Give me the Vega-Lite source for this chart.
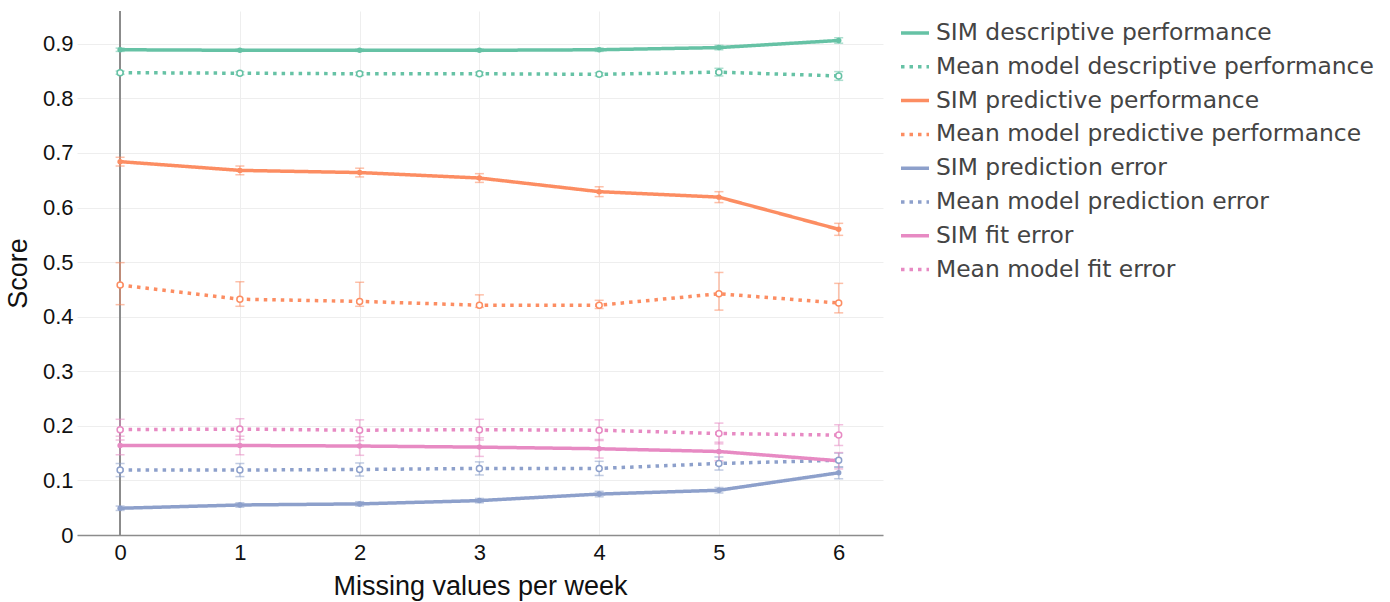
{
  "$schema": "https://vega.github.io/schema/vega-lite/v6.json",
  "width": 806,
  "height": 524,
  "padding": {"left": 4, "top": 10, "right": 5, "bottom": 2},
  "background": "white",
  "config": {
    "view": {"stroke": null},
    "axis": {"labelFont": "Liberation Sans", "titleFont": "Liberation Sans", "labelColor": "#111", "titleColor": "#111", "titleFontWeight": "normal", "gridColor": "#eeeeee", "gridWidth": 1, "ticks": false, "domain": false}
  },
  "data": {"values": [
    {"x":0,"series":"SIM descriptive performance","model":"SIM","y":0.889,"lo":0.886,"hi":0.892},
    {"x":1,"series":"SIM descriptive performance","model":"SIM","y":0.888,"lo":0.886,"hi":0.890},
    {"x":2,"series":"SIM descriptive performance","model":"SIM","y":0.888,"lo":0.886,"hi":0.890},
    {"x":3,"series":"SIM descriptive performance","model":"SIM","y":0.888,"lo":0.886,"hi":0.890},
    {"x":4,"series":"SIM descriptive performance","model":"SIM","y":0.889,"lo":0.886,"hi":0.892},
    {"x":5,"series":"SIM descriptive performance","model":"SIM","y":0.893,"lo":0.889,"hi":0.897},
    {"x":6,"series":"SIM descriptive performance","model":"SIM","y":0.906,"lo":0.901,"hi":0.911},
    {"x":0,"series":"Mean model descriptive performance","model":"Mean","y":0.847,"lo":0.844,"hi":0.850},
    {"x":1,"series":"Mean model descriptive performance","model":"Mean","y":0.846,"lo":0.843,"hi":0.849},
    {"x":2,"series":"Mean model descriptive performance","model":"Mean","y":0.845,"lo":0.842,"hi":0.848},
    {"x":3,"series":"Mean model descriptive performance","model":"Mean","y":0.845,"lo":0.842,"hi":0.848},
    {"x":4,"series":"Mean model descriptive performance","model":"Mean","y":0.844,"lo":0.841,"hi":0.847},
    {"x":5,"series":"Mean model descriptive performance","model":"Mean","y":0.848,"lo":0.841,"hi":0.855},
    {"x":6,"series":"Mean model descriptive performance","model":"Mean","y":0.841,"lo":0.833,"hi":0.849},
    {"x":0,"series":"SIM predictive performance","model":"SIM","y":0.684,"lo":0.676,"hi":0.692},
    {"x":1,"series":"SIM predictive performance","model":"SIM","y":0.668,"lo":0.660,"hi":0.676},
    {"x":2,"series":"SIM predictive performance","model":"SIM","y":0.664,"lo":0.656,"hi":0.672},
    {"x":3,"series":"SIM predictive performance","model":"SIM","y":0.654,"lo":0.646,"hi":0.662},
    {"x":4,"series":"SIM predictive performance","model":"SIM","y":0.629,"lo":0.620,"hi":0.638},
    {"x":5,"series":"SIM predictive performance","model":"SIM","y":0.619,"lo":0.609,"hi":0.629},
    {"x":6,"series":"SIM predictive performance","model":"SIM","y":0.560,"lo":0.549,"hi":0.571},
    {"x":0,"series":"Mean model predictive performance","model":"Mean","y":0.458,"lo":0.422,"hi":0.499},
    {"x":1,"series":"Mean model predictive performance","model":"Mean","y":0.432,"lo":0.419,"hi":0.464},
    {"x":2,"series":"Mean model predictive performance","model":"Mean","y":0.428,"lo":0.419,"hi":0.463},
    {"x":3,"series":"Mean model predictive performance","model":"Mean","y":0.421,"lo":0.417,"hi":0.440},
    {"x":4,"series":"Mean model predictive performance","model":"Mean","y":0.421,"lo":0.415,"hi":0.430},
    {"x":5,"series":"Mean model predictive performance","model":"Mean","y":0.442,"lo":0.412,"hi":0.481},
    {"x":6,"series":"Mean model predictive performance","model":"Mean","y":0.425,"lo":0.407,"hi":0.461},
    {"x":0,"series":"SIM prediction error","model":"SIM","y":0.049,"lo":0.045,"hi":0.053},
    {"x":1,"series":"SIM prediction error","model":"SIM","y":0.055,"lo":0.051,"hi":0.059},
    {"x":2,"series":"SIM prediction error","model":"SIM","y":0.057,"lo":0.053,"hi":0.061},
    {"x":3,"series":"SIM prediction error","model":"SIM","y":0.063,"lo":0.059,"hi":0.067},
    {"x":4,"series":"SIM prediction error","model":"SIM","y":0.075,"lo":0.070,"hi":0.080},
    {"x":5,"series":"SIM prediction error","model":"SIM","y":0.082,"lo":0.077,"hi":0.087},
    {"x":6,"series":"SIM prediction error","model":"SIM","y":0.114,"lo":0.103,"hi":0.125},
    {"x":0,"series":"Mean model prediction error","model":"Mean","y":0.119,"lo":0.107,"hi":0.131},
    {"x":1,"series":"Mean model prediction error","model":"Mean","y":0.119,"lo":0.107,"hi":0.131},
    {"x":2,"series":"Mean model prediction error","model":"Mean","y":0.120,"lo":0.108,"hi":0.132},
    {"x":3,"series":"Mean model prediction error","model":"Mean","y":0.122,"lo":0.110,"hi":0.134},
    {"x":4,"series":"Mean model prediction error","model":"Mean","y":0.122,"lo":0.109,"hi":0.135},
    {"x":5,"series":"Mean model prediction error","model":"Mean","y":0.131,"lo":0.119,"hi":0.143},
    {"x":6,"series":"Mean model prediction error","model":"Mean","y":0.137,"lo":0.124,"hi":0.150},
    {"x":0,"series":"SIM fit error","model":"SIM","y":0.164,"lo":0.147,"hi":0.181},
    {"x":1,"series":"SIM fit error","model":"SIM","y":0.164,"lo":0.147,"hi":0.181},
    {"x":2,"series":"SIM fit error","model":"SIM","y":0.163,"lo":0.146,"hi":0.180},
    {"x":3,"series":"SIM fit error","model":"SIM","y":0.161,"lo":0.144,"hi":0.178},
    {"x":4,"series":"SIM fit error","model":"SIM","y":0.158,"lo":0.141,"hi":0.175},
    {"x":5,"series":"SIM fit error","model":"SIM","y":0.153,"lo":0.136,"hi":0.170},
    {"x":6,"series":"SIM fit error","model":"SIM","y":0.136,"lo":0.121,"hi":0.151},
    {"x":0,"series":"Mean model fit error","model":"Mean","y":0.193,"lo":0.174,"hi":0.212},
    {"x":1,"series":"Mean model fit error","model":"Mean","y":0.194,"lo":0.175,"hi":0.213},
    {"x":2,"series":"Mean model fit error","model":"Mean","y":0.192,"lo":0.173,"hi":0.211},
    {"x":3,"series":"Mean model fit error","model":"Mean","y":0.193,"lo":0.174,"hi":0.212},
    {"x":4,"series":"Mean model fit error","model":"Mean","y":0.192,"lo":0.173,"hi":0.211},
    {"x":5,"series":"Mean model fit error","model":"Mean","y":0.186,"lo":0.167,"hi":0.205},
    {"x":6,"series":"Mean model fit error","model":"Mean","y":0.183,"lo":0.164,"hi":0.202}
  ]},
  "encoding": {
    "x": {"field": "x", "type": "quantitative",
      "scale": {"domain": [-0.36, 6.37], "nice": false, "zero": false},
      "axis": {"values": [0,1,2,3,4,5,6], "format": "d", "title": "Missing values per week", "labelFontSize": 22, "titleFontSize": 27, "labelPadding": 7, "titlePadding": 10, "domain": true, "domainColor": "#8c8c8c", "domainWidth": 1.5, "grid": true}},
    "color": {"field": "series", "type": "nominal",
      "scale": {
        "domain": ["SIM descriptive performance","Mean model descriptive performance","SIM predictive performance","Mean model predictive performance","SIM prediction error","Mean model prediction error","SIM fit error","Mean model fit error"],
        "range": ["#66c2a5","#66c2a5","#fc8d62","#fc8d62","#8da0cb","#8da0cb","#e78ac3","#e78ac3"]},
      "legend": {"title": null, "orient": "right", "offset": 10, "padding": 6, "labelFont": "DejaVu Sans", "labelFontSize": 23.4, "labelColor": "#444", "symbolType": "stroke", "symbolSize": 784, "symbolStrokeWidth": 3.5, "symbolOpacity": 1, "rowPadding": 5.8, "labelOffset": 5, "labelLimit": 600}}
  },
  "layer": [
    {
      "mark": {"type": "rule", "color": "#8c8c8c", "strokeWidth": 1.5},
      "encoding": {"x": {"datum": 0}, "color": {"value": "#8c8c8c"}}
    },
    {
      "mark": {"type": "errorbar", "ticks": {"size": 9}, "thickness": 1.5, "opacity": 0.55},
      "encoding": {
        "y": {"field": "lo", "type": "quantitative", "title": "Score"},
        "y2": {"field": "hi"}
      }
    },
    {
      "mark": {"type": "line", "strokeWidth": 3.5, "strokeCap": "butt"},
      "encoding": {
        "y": {"field": "y", "type": "quantitative",
          "scale": {"domain": [0, 0.96], "nice": false},
          "axis": {"values": [0,0.1,0.2,0.3,0.4,0.5,0.6,0.7,0.8,0.9], "format": ".1~f", "title": "Score", "labelFontSize": 22, "titleFontSize": 27, "labelPadding": 4, "titlePadding": 10, "grid": true}},
        "strokeDash": {"field": "series", "type": "nominal",
          "scale": {
            "domain": ["SIM descriptive performance","Mean model descriptive performance","SIM predictive performance","Mean model predictive performance","SIM prediction error","Mean model prediction error","SIM fit error","Mean model fit error"],
            "range": [[1,0],[3.5,5],[1,0],[3.5,5],[1,0],[3.5,5],[1,0],[3.5,5]]},
          "legend": {"title": null, "orient": "right", "offset": 10, "padding": 6, "labelFont": "DejaVu Sans", "labelFontSize": 23.4, "labelColor": "#444", "symbolType": "stroke", "symbolSize": 784, "symbolStrokeWidth": 3.5, "symbolOpacity": 1, "rowPadding": 5.8, "labelOffset": 5, "labelLimit": 600}}
      }
    },
    {
      "transform": [{"filter": "datum.model == 'SIM'"}],
      "mark": {"type": "point", "filled": true, "shape": "circle", "size": 30, "opacity": 1},
      "encoding": {"y": {"field": "y", "type": "quantitative"}}
    },
    {
      "transform": [{"filter": "datum.model == 'Mean'"}],
      "mark": {"type": "point", "filled": false, "fill": "white", "shape": "circle", "size": 36, "strokeWidth": 1.5, "opacity": 1},
      "encoding": {"y": {"field": "y", "type": "quantitative"}}
    }
  ]
}
